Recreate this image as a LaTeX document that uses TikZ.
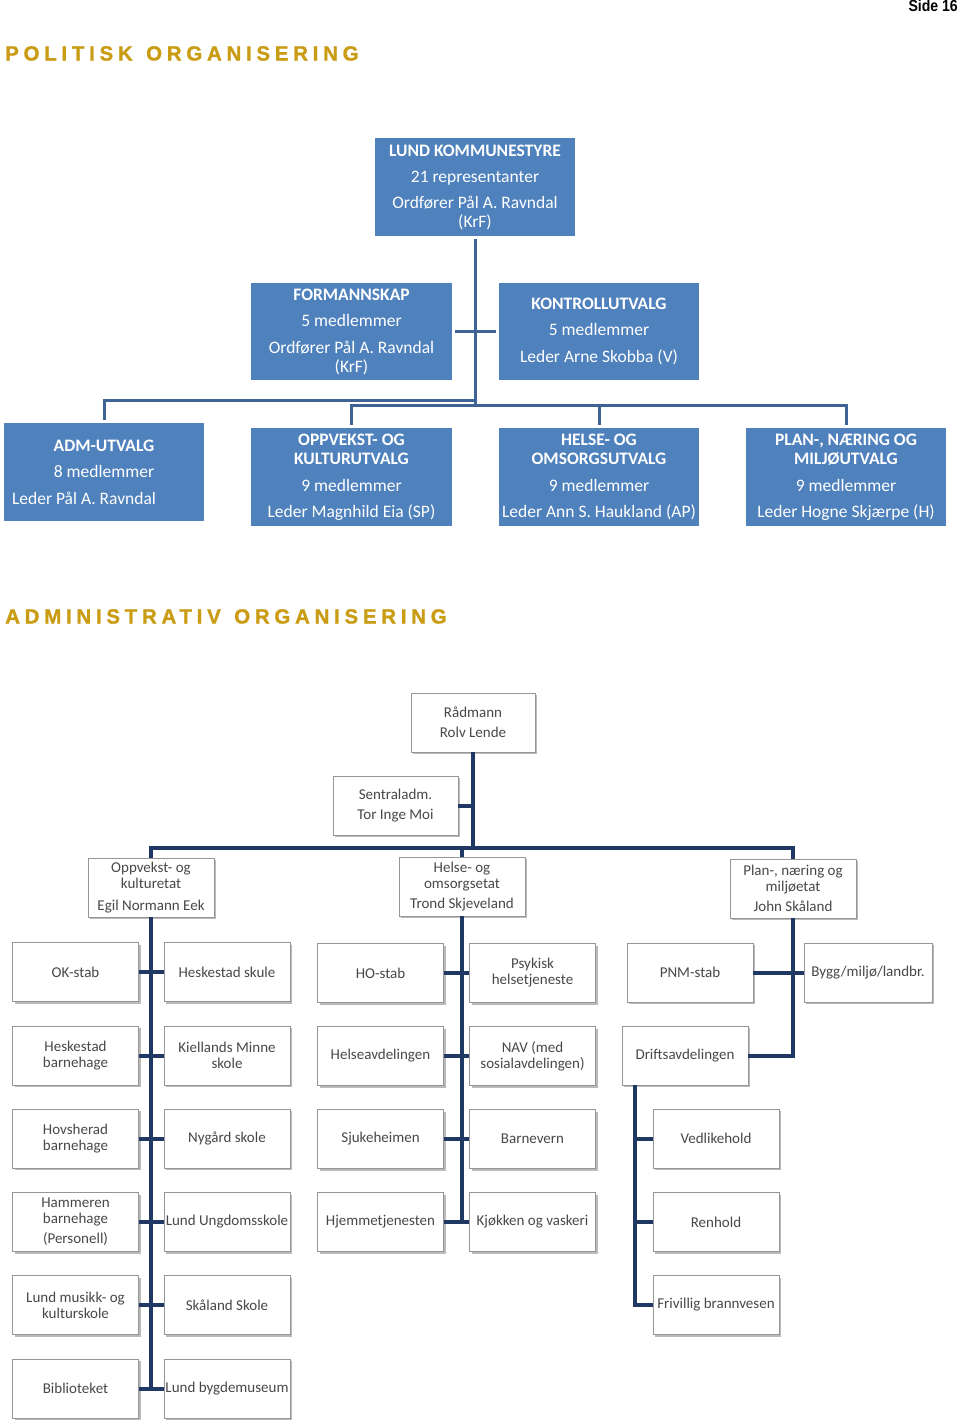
\documentclass[tikz,border=0pt]{standalone}
\usepackage{fontspec}
\setmainfont{Carlito}
\newfontfamily\titlefont{Liberation Sans}
\usetikzlibrary{shadows}
\definecolor{pblue}{RGB}{79,129,189}
\definecolor{plinec}{RGB}{62,99,148}
\definecolor{alinec}{RGB}{31,56,100}
\definecolor{gold}{RGB}{201,156,20}
\definecolor{agray}{RGB}{72,72,72}
\definecolor{aborder}{RGB}{150,150,150}
\begin{document}
\begin{tikzpicture}[x=1pt,y=-1pt,
 pbox/.style={fill=pblue,text=white,minimum width=200pt,minimum height=98pt,inner sep=0pt,align=center,font=\fontsize{17.5}{19}\selectfont},
 abox/.style={draw=aborder,line width=0.7pt,fill=white,drop shadow={shadow xshift=2pt,shadow yshift=-2pt,opacity=0.45,fill=black!60},minimum width=126pt,minimum height=59pt,inner sep=0pt,align=center,text=agray,font=\fontsize{15}{16}\selectfont},
 pline/.style={draw=plinec,line width=3pt,line cap=rect},
 aline/.style={draw=alinec,line width=4pt},
 sect/.style={anchor=base west,text=gold,inner sep=0pt,font=\titlefont\bfseries\fontsize{20.5}{21}\selectfont\addfontfeature{LetterSpace=23,FakeBold=1.2}}]
\fill[white] (0,0) rectangle (960,1427);
\useasboundingbox (0,0) rectangle (960,1427);

% headers
\node[anchor=north east,inner sep=0pt,font=\titlefont\bfseries\fontsize{16}{16}\selectfont] (side) at (958,0) {\scalebox{0.88}[1]{Side 16}};
\node[sect] (t1) at (5,60.5) {POLITISK\hspace{3pt} ORGANISERING};
\node[sect] (t2) at (5,623.5) {ADMINISTRATIV\hspace{3pt} ORGANISERING};

% political
\node[pbox] (kst) at (475,187) {\textbf{LUND KOMMUNESTYRE}\\[7pt]21 representanter\\[7pt]Ordfører Pål A. Ravndal\\(KrF)};
\node[pbox,minimum width=201pt,minimum height=97pt] (fsk) at (351.5,331.5) {\textbf{FORMANNSKAP}\\[7pt]5 medlemmer\\[8pt]Ordfører Pål A. Ravndal\\(KrF)};
\node[pbox,minimum height=97pt] (kon) at (599,331.5) {\textbf{KONTROLLUTVALG}\\[7pt]5 medlemmer\\[8pt]Leder Arne Skobba (V)};
\node[pbox] (adm) at (104,472) {\textbf{ADM-UTVALG}\\[7pt]8 medlemmer\\[8pt]Leder Pål A. Ravndal\hspace*{40pt}};
\node[pbox,minimum width=201pt] (opp) at (351.5,477) {\textbf{OPPVEKST- OG}\\\textbf{KULTURUTVALG}\\[8pt]9 medlemmer\\[7pt]Leder Magnhild Eia (SP)};
\node[pbox] (hel) at (599,477) {\textbf{HELSE- OG}\\\textbf{OMSORGSUTVALG}\\[8pt]9 medlemmer\\[7pt]Leder Ann S. Haukland (AP)};
\node[pbox] (pla) at (846,477) {\textbf{PLAN-, NÆRING OG}\\\textbf{MILJØUTVALG}\\[8pt]9 medlemmer\\[7pt]Leder Hogne Skjærpe (H)};

\coordinate (pa) at (475,400);
\coordinate (pb) at (475,405);
\draw[pline,shorten <=4pt] (kst.south) -- (pb);
\draw[pline,shorten <=4pt,shorten >=4pt] (fsk.east) -- (kon.west);
\draw[pline,shorten >=4pt] (pa) -| (adm.north);
\draw[pline,shorten >=4pt] (pb) -| (opp.north);
\draw[pline,shorten >=4pt] (pb) -| (hel.north);
\draw[pline,shorten >=4pt] (pb) -| (pla.north);

% administrative
\node[abox,minimum width=124pt] (rad) at (473,722.5) {Rådmann\\[4pt]Rolv Lende};
\node[abox,minimum width=125pt] (sen) at (395.5,805.5) {Sentraladm.\\[4pt]Tor Inge Moi};
\node[abox] (oke) at (151,887.5) {Oppvekst- og\\kulturetat\\[6pt]Egil Normann Eek};
\node[abox] (hoe) at (462,886.5) {Helse- og\\omsorgsetat\\[4pt]Trond Skjeveland};
\node[abox] (pne) at (793,888.5) {Plan-, næring og\\miljøetat\\[4pt]John Skåland};

\node[abox] (okstab) at (75.5,972) {OK-stab};
\node[abox] (hskule) at (227,972) {Heskestad skule};
\node[abox] (hbhg) at (75.5,1055.5) {Heskestad\\barnehage};
\node[abox] (kms) at (227,1055.5) {Kiellands Minne\\skole};
\node[abox] (hovs) at (75.5,1138.5) {Hovsherad\\barnehage};
\node[abox] (nyg) at (227,1138.5) {Nygård skole};
\node[abox] (hamm) at (75.5,1222) {Hammeren\\barnehage\\[4pt](Personell)};
\node[abox] (lus) at (227,1222) {Lund Ungdomsskole};
\node[abox] (musk) at (75.5,1305) {Lund musikk- og\\kulturskole};
\node[abox] (skal) at (227,1305) {Skåland Skole};
\node[abox] (bib) at (75.5,1388.5) {Biblioteket};
\node[abox] (mus) at (227,1388.5) {Lund bygdemuseum};

\node[abox] (hostab) at (380.5,973) {HO-stab};
\node[abox] (psyk) at (532.5,973) {Psykisk\\helsetjeneste};
\node[abox] (helav) at (380.5,1056) {Helseavdelingen};
\node[abox] (nav) at (532.5,1056) {NAV (med\\sosialavdelingen)};
\node[abox] (sjuk) at (380.5,1139) {Sjukeheimen};
\node[abox] (barn) at (532.5,1139) {Barnevern};
\node[abox] (hjem) at (380.5,1222) {Hjemmetjenesten};
\node[abox] (kjok) at (532.5,1222) {Kjøkken og vaskeri};

\node[abox] (pnm) at (690,972.5) {PNM-stab};
\node[abox,minimum width=128pt] (bygg) at (868,972.5) {Bygg/miljø/landbr.};
\node[abox] (drift) at (685,1055.5) {Driftsavdelingen};
\node[abox] (vedl) at (716,1138.5) {Vedlikehold};
\node[abox] (renh) at (716,1222) {Renhold};
\node[abox] (friv) at (716,1305) {Frivillig brannvesen};

\coordinate (abus) at (473,848);
\draw[aline] (rad.south) -- (abus);
\draw[aline] (sen.east) -- (sen.east -| abus);
\draw[aline] (oke.north) |- (abus) -| (pne.north);
\draw[aline] (hoe.north) -- (hoe.north |- abus);

\draw[aline] (oke.south) -- (oke.south |- bib.east);
\foreach \a/\b in {okstab/hskule,hbhg/kms,hovs/nyg,hamm/lus,musk/skal,bib/mus}
  \draw[aline] (\a.east) -- (\b.west);

\draw[aline] (hoe.south) -- (hoe.south |- hjem.east);
\foreach \a/\b in {hostab/psyk,helav/nav,sjuk/barn,hjem/kjok}
  \draw[aline] (\a.east) -- (\b.west);

\draw[aline] (pnm.east) -- (bygg.west);
\draw[aline] (pne.south) |- (drift.east);
\coordinate (dtop) at ([xshift=-50pt]drift.south);
\draw[aline] (dtop) |- (friv.west);
\draw[aline] (vedl.west) -- (vedl.west -| dtop);
\draw[aline] (renh.west) -- (renh.west -| dtop);
\end{tikzpicture}
\end{document}
